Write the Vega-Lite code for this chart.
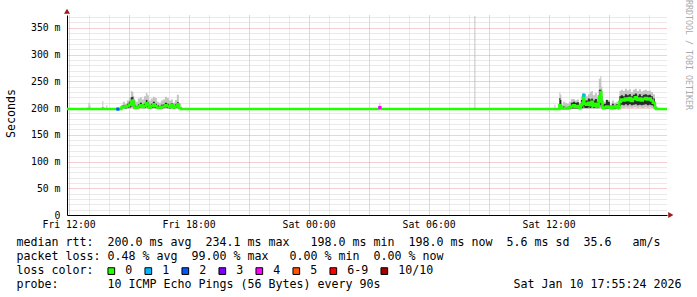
{
  "$schema": "https://vega.github.io/schema/vega-lite/v6.json",
  "width": 600,
  "height": 200,
  "autosize": {"type": "none"},
  "padding": {"left": 67, "top": 15, "right": 30, "bottom": 82},
  "background": "white",
  "config": {
    "view": {"stroke": null},
    "font": "DejaVu Sans Mono",
    "axis": {
      "labelFont": "DejaVu Sans Mono", "labelFontSize": 9.8, "labelColor": "black",
      "titleFont": "DejaVu Sans Mono", "titleFontSize": 11.63, "titleFontWeight": "normal", "titleColor": "black",
      "domainColor": "black", "domainWidth": 1, "ticks": false,
      "gridDash": [1, 1], "gridWidth": 1, "gridOpacity": 1
    }
  },
  "title": {
    "text": "RRDTOOL / TOBI OETIKER",
    "orient": "right", "anchor": "start", "frame": "group", "angle": 90,
    "baseline": "middle", "offset": -1, "dx": -15,
    "font": "DejaVu Sans Mono", "fontSize": 8.3, "fontWeight": "normal", "color": "#aaaaaa"
  },
  "data": {"values": [
    {"t":"2026-01-09T11:55:24Z","lo":197,"ilo":197.5,"ihi":199,"hi":200,"med":198,"loss":"0"},
    {"t":"2026-01-09T12:30:00Z","lo":197,"ilo":197.5,"ihi":199,"hi":200,"med":198,"loss":"0"},
    {"t":"2026-01-09T12:58:00Z","lo":197,"ilo":197.5,"ihi":199,"hi":200,"med":198,"loss":"0"},
    {"t":"2026-01-09T13:01:00Z","lo":197,"ilo":198,"ihi":200,"hi":210,"med":198.5,"loss":"0"},
    {"t":"2026-01-09T13:04:00Z","lo":197,"ilo":197.5,"ihi":199,"hi":206,"med":198,"loss":"0"},
    {"t":"2026-01-09T13:07:00Z","lo":197,"ilo":197.5,"ihi":199,"hi":200,"med":198,"loss":"0"},
    {"t":"2026-01-09T13:40:00Z","lo":197,"ilo":197.5,"ihi":199,"hi":200,"med":198,"loss":"0"},
    {"t":"2026-01-09T13:43:00Z","lo":197,"ilo":198,"ihi":201,"hi":213,"med":198.5,"loss":"0"},
    {"t":"2026-01-09T13:46:00Z","lo":197,"ilo":197.5,"ihi":199,"hi":200,"med":198,"loss":"0"},
    {"t":"2026-01-09T13:52:00Z","lo":197,"ilo":197.5,"ihi":199,"hi":200,"med":198,"loss":"0"},
    {"t":"2026-01-09T13:55:00Z","lo":197,"ilo":197.5,"ihi":200,"hi":205,"med":198,"loss":"0"},
    {"t":"2026-01-09T13:58:00Z","lo":197,"ilo":197.5,"ihi":199,"hi":200,"med":198,"loss":"0"},
    {"t":"2026-01-09T14:25:00Z","lo":197,"ilo":197.5,"ihi":199,"hi":200,"med":198,"loss":"0"},
    {"t":"2026-01-09T14:28:00Z","lo":197,"ilo":197.5,"ihi":199,"hi":201,"med":198,"loss":"2"},
    {"t":"2026-01-09T14:31:00Z","lo":197,"ilo":197.5,"ihi":199,"hi":200,"med":198,"loss":"0"},
    {"t":"2026-01-09T14:37:00Z","lo":197,"ilo":197.5,"ihi":199,"hi":200,"med":198,"loss":"0"},
    {"t":"2026-01-09T14:40:00Z","lo":198,"ilo":199,"ihi":203,"hi":206,"med":201,"loss":"0"},
    {"t":"2026-01-09T14:46:00Z","lo":198,"ilo":200,"ihi":205,"hi":212,"med":203,"loss":"0"},
    {"t":"2026-01-09T14:52:00Z","lo":198,"ilo":199,"ihi":204,"hi":208,"med":202,"loss":"0"},
    {"t":"2026-01-09T14:58:00Z","lo":198,"ilo":200,"ihi":208,"hi":214,"med":204,"loss":"0"},
    {"t":"2026-01-09T15:04:00Z","lo":199,"ilo":201,"ihi":212,"hi":220,"med":206,"loss":"0"},
    {"t":"2026-01-09T15:10:00Z","lo":200,"ilo":203,"ihi":220,"hi":232,"med":212,"loss":"0"},
    {"t":"2026-01-09T15:13:00Z","lo":200,"ilo":204,"ihi":221,"hi":230,"med":214,"loss":"0"},
    {"t":"2026-01-09T15:16:00Z","lo":199,"ilo":201,"ihi":214,"hi":222,"med":206,"loss":"0"},
    {"t":"2026-01-09T15:19:00Z","lo":198,"ilo":199,"ihi":205,"hi":214,"med":200,"loss":"0"},
    {"t":"2026-01-09T15:25:00Z","lo":198,"ilo":199,"ihi":204,"hi":212,"med":201,"loss":"0"},
    {"t":"2026-01-09T15:31:00Z","lo":198,"ilo":200,"ihi":207,"hi":218,"med":203,"loss":"0"},
    {"t":"2026-01-09T15:37:00Z","lo":199,"ilo":201,"ihi":210,"hi":220,"med":205,"loss":"0"},
    {"t":"2026-01-09T15:43:00Z","lo":198,"ilo":200,"ihi":206,"hi":216,"med":202,"loss":"0"},
    {"t":"2026-01-09T15:49:00Z","lo":198,"ilo":200,"ihi":208,"hi":222,"med":204,"loss":"0"},
    {"t":"2026-01-09T15:55:00Z","lo":199,"ilo":202,"ihi":215,"hi":228,"med":209,"loss":"0"},
    {"t":"2026-01-09T15:58:00Z","lo":199,"ilo":201,"ihi":211,"hi":224,"med":206,"loss":"0"},
    {"t":"2026-01-09T16:04:00Z","lo":198,"ilo":199,"ihi":205,"hi":214,"med":201,"loss":"0"},
    {"t":"2026-01-09T16:10:00Z","lo":198,"ilo":200,"ihi":208,"hi":218,"med":204,"loss":"0"},
    {"t":"2026-01-09T16:16:00Z","lo":199,"ilo":201,"ihi":212,"hi":221,"med":207,"loss":"0"},
    {"t":"2026-01-09T16:22:00Z","lo":198,"ilo":200,"ihi":208,"hi":219,"med":204,"loss":"0"},
    {"t":"2026-01-09T16:28:00Z","lo":198,"ilo":199,"ihi":205,"hi":212,"med":201,"loss":"0"},
    {"t":"2026-01-09T16:34:00Z","lo":198,"ilo":199,"ihi":203,"hi":210,"med":200,"loss":"0"},
    {"t":"2026-01-09T16:40:00Z","lo":198,"ilo":199,"ihi":206,"hi":214,"med":202,"loss":"0"},
    {"t":"2026-01-09T16:46:00Z","lo":198,"ilo":200,"ihi":207,"hi":216,"med":203,"loss":"0"},
    {"t":"2026-01-09T16:52:00Z","lo":199,"ilo":201,"ihi":210,"hi":221,"med":205,"loss":"0"},
    {"t":"2026-01-09T16:58:00Z","lo":198,"ilo":200,"ihi":208,"hi":219,"med":204,"loss":"0"},
    {"t":"2026-01-09T17:04:00Z","lo":198,"ilo":199,"ihi":205,"hi":214,"med":202,"loss":"0"},
    {"t":"2026-01-09T17:10:00Z","lo":199,"ilo":201,"ihi":209,"hi":216,"med":206,"loss":"0"},
    {"t":"2026-01-09T17:16:00Z","lo":198,"ilo":199,"ihi":204,"hi":210,"med":201,"loss":"0"},
    {"t":"2026-01-09T17:22:00Z","lo":198,"ilo":200,"ihi":207,"hi":215,"med":203,"loss":"0"},
    {"t":"2026-01-09T17:28:00Z","lo":199,"ilo":201,"ihi":211,"hi":225,"med":207,"loss":"0"},
    {"t":"2026-01-09T17:34:00Z","lo":198,"ilo":198.5,"ihi":202,"hi":208,"med":200,"loss":"0"},
    {"t":"2026-01-09T17:40:00Z","lo":197,"ilo":197.5,"ihi":199,"hi":200,"med":198,"loss":"0"},
    {"t":"2026-01-09T18:30:00Z","lo":197,"ilo":197.5,"ihi":199,"hi":200,"med":198,"loss":"0"},
    {"t":"2026-01-09T19:30:00Z","lo":197,"ilo":197.5,"ihi":199,"hi":200,"med":198,"loss":"0"},
    {"t":"2026-01-09T20:30:00Z","lo":197,"ilo":197.5,"ihi":199,"hi":200,"med":198,"loss":"0"},
    {"t":"2026-01-09T21:30:00Z","lo":197,"ilo":197.5,"ihi":199,"hi":200,"med":198,"loss":"0"},
    {"t":"2026-01-09T22:30:00Z","lo":197,"ilo":197.5,"ihi":199,"hi":200,"med":198,"loss":"0"},
    {"t":"2026-01-09T23:30:00Z","lo":197,"ilo":197.5,"ihi":199,"hi":200,"med":198,"loss":"0"},
    {"t":"2026-01-10T00:30:00Z","lo":197,"ilo":197.5,"ihi":199,"hi":200,"med":198,"loss":"0"},
    {"t":"2026-01-10T01:30:00Z","lo":197,"ilo":197.5,"ihi":199,"hi":200,"med":198,"loss":"0"},
    {"t":"2026-01-10T02:30:00Z","lo":197,"ilo":197.5,"ihi":199,"hi":200,"med":198,"loss":"0"},
    {"t":"2026-01-10T03:31:00Z","lo":197,"ilo":197.5,"ihi":199,"hi":200,"med":198,"loss":"0"},
    {"t":"2026-01-10T03:34:00Z","lo":197,"ilo":198,"ihi":203,"hi":210,"med":201,"loss":"4"},
    {"t":"2026-01-10T03:37:00Z","lo":197,"ilo":197.5,"ihi":199,"hi":200,"med":198,"loss":"0"},
    {"t":"2026-01-10T04:30:00Z","lo":197,"ilo":197.5,"ihi":199,"hi":200,"med":198,"loss":"0"},
    {"t":"2026-01-10T05:30:00Z","lo":197,"ilo":197.5,"ihi":199,"hi":200,"med":198,"loss":"0"},
    {"t":"2026-01-10T06:30:00Z","lo":197,"ilo":197.5,"ihi":199,"hi":200,"med":198,"loss":"0"},
    {"t":"2026-01-10T07:30:00Z","lo":197,"ilo":197.5,"ihi":199,"hi":200,"med":198,"loss":"0"},
    {"t":"2026-01-10T08:16:00Z","lo":197,"ilo":197.5,"ihi":199,"hi":200,"med":198,"loss":"0"},
    {"t":"2026-01-10T08:19:00Z","lo":197,"ilo":198,"ihi":200,"hi":372,"med":198,"loss":"0"},
    {"t":"2026-01-10T08:22:00Z","lo":197,"ilo":197.5,"ihi":199,"hi":200,"med":198,"loss":"0"},
    {"t":"2026-01-10T09:00:00Z","lo":197,"ilo":197.5,"ihi":199,"hi":200,"med":198,"loss":"0"},
    {"t":"2026-01-10T10:00:00Z","lo":197,"ilo":197.5,"ihi":199,"hi":200,"med":198,"loss":"0"},
    {"t":"2026-01-10T11:00:00Z","lo":197,"ilo":197.5,"ihi":199,"hi":200,"med":198,"loss":"0"},
    {"t":"2026-01-10T12:00:00Z","lo":197,"ilo":197.5,"ihi":199,"hi":200,"med":198,"loss":"0"},
    {"t":"2026-01-10T12:16:00Z","lo":197,"ilo":197.5,"ihi":199,"hi":200,"med":198,"loss":"0"},
    {"t":"2026-01-10T12:19:00Z","lo":197,"ilo":198,"ihi":200,"hi":206,"med":198,"loss":"0"},
    {"t":"2026-01-10T12:22:00Z","lo":197,"ilo":197.5,"ihi":199,"hi":200,"med":198,"loss":"0"},
    {"t":"2026-01-10T12:31:00Z","lo":197,"ilo":197.5,"ihi":199,"hi":200,"med":198,"loss":"0"},
    {"t":"2026-01-10T12:34:00Z","lo":198,"ilo":199,"ihi":219,"hi":229,"med":205,"loss":"0"},
    {"t":"2026-01-10T12:37:00Z","lo":198,"ilo":199,"ihi":215,"hi":225,"med":203,"loss":"0"},
    {"t":"2026-01-10T12:40:00Z","lo":197,"ilo":198,"ihi":200,"hi":206,"med":199,"loss":"0"},
    {"t":"2026-01-10T12:46:00Z","lo":197,"ilo":198,"ihi":203,"hi":212,"med":199,"loss":"0"},
    {"t":"2026-01-10T12:52:00Z","lo":197,"ilo":198,"ihi":202,"hi":210,"med":200,"loss":"0"},
    {"t":"2026-01-10T12:58:00Z","lo":197,"ilo":198,"ihi":201,"hi":208,"med":199,"loss":"0"},
    {"t":"2026-01-10T13:04:00Z","lo":197,"ilo":198,"ihi":204,"hi":212,"med":201,"loss":"0"},
    {"t":"2026-01-10T13:10:00Z","lo":198,"ilo":199,"ihi":210,"hi":217,"med":203,"loss":"0"},
    {"t":"2026-01-10T13:16:00Z","lo":198,"ilo":199,"ihi":212,"hi":217,"med":205,"loss":"0"},
    {"t":"2026-01-10T13:22:00Z","lo":198,"ilo":199,"ihi":210,"hi":214,"med":202,"loss":"0"},
    {"t":"2026-01-10T13:28:00Z","lo":198,"ilo":199,"ihi":211,"hi":216,"med":204,"loss":"0"},
    {"t":"2026-01-10T13:34:00Z","lo":197,"ilo":198,"ihi":203,"hi":210,"med":200,"loss":"0"},
    {"t":"2026-01-10T13:40:00Z","lo":198,"ilo":199,"ihi":215,"hi":222,"med":205,"loss":"0"},
    {"t":"2026-01-10T13:43:00Z","lo":198,"ilo":200,"ihi":220,"hi":228,"med":210,"loss":"0"},
    {"t":"2026-01-10T13:46:00Z","lo":199,"ilo":203,"ihi":226,"hi":228,"med":224,"loss":"1"},
    {"t":"2026-01-10T13:49:00Z","lo":198,"ilo":200,"ihi":214,"hi":220,"med":208,"loss":"0"},
    {"t":"2026-01-10T13:55:00Z","lo":198,"ilo":200,"ihi":214,"hi":222,"med":206,"loss":"0"},
    {"t":"2026-01-10T14:01:00Z","lo":198,"ilo":201,"ihi":218,"hi":226,"med":210,"loss":"0"},
    {"t":"2026-01-10T14:07:00Z","lo":198,"ilo":200,"ihi":216,"hi":230,"med":205,"loss":"0"},
    {"t":"2026-01-10T14:10:00Z","lo":199,"ilo":202,"ihi":218,"hi":232,"med":212,"loss":"0"},
    {"t":"2026-01-10T14:16:00Z","lo":198,"ilo":200,"ihi":214,"hi":224,"med":204,"loss":"0"},
    {"t":"2026-01-10T14:22:00Z","lo":198,"ilo":201,"ihi":217,"hi":228,"med":208,"loss":"0"},
    {"t":"2026-01-10T14:28:00Z","lo":198,"ilo":200,"ihi":212,"hi":220,"med":203,"loss":"0"},
    {"t":"2026-01-10T14:34:00Z","lo":199,"ilo":203,"ihi":234,"hi":255,"med":222,"loss":"0"},
    {"t":"2026-01-10T14:37:00Z","lo":200,"ilo":206,"ihi":234,"hi":260,"med":230,"loss":"0"},
    {"t":"2026-01-10T14:40:00Z","lo":199,"ilo":202,"ihi":222,"hi":240,"med":212,"loss":"0"},
    {"t":"2026-01-10T14:43:00Z","lo":197,"ilo":198,"ihi":206,"hi":214,"med":200,"loss":"0"},
    {"t":"2026-01-10T14:49:00Z","lo":197,"ilo":198,"ihi":208,"hi":212,"med":201,"loss":"0"},
    {"t":"2026-01-10T14:55:00Z","lo":198,"ilo":199,"ihi":215,"hi":216,"med":203,"loss":"0"},
    {"t":"2026-01-10T15:01:00Z","lo":198,"ilo":199,"ihi":212,"hi":215,"med":202,"loss":"0"},
    {"t":"2026-01-10T15:07:00Z","lo":197,"ilo":198,"ihi":202,"hi":206,"med":200,"loss":"0"},
    {"t":"2026-01-10T15:13:00Z","lo":197,"ilo":199,"ihi":208,"hi":214,"med":203,"loss":"0"},
    {"t":"2026-01-10T15:19:00Z","lo":197,"ilo":198,"ihi":204,"hi":210,"med":201,"loss":"0"},
    {"t":"2026-01-10T15:25:00Z","lo":198,"ilo":199,"ihi":207,"hi":212,"med":204,"loss":"0"},
    {"t":"2026-01-10T15:31:00Z","lo":197,"ilo":198,"ihi":203,"hi":208,"med":200,"loss":"0"},
    {"t":"2026-01-10T15:34:00Z","lo":200,"ilo":204,"ihi":222,"hi":232,"med":212,"loss":"0"},
    {"t":"2026-01-10T15:40:00Z","lo":200,"ilo":206,"ihi":224,"hi":234,"med":216,"loss":"0"},
    {"t":"2026-01-10T15:46:00Z","lo":200,"ilo":205,"ihi":222,"hi":232,"med":214,"loss":"0"},
    {"t":"2026-01-10T15:52:00Z","lo":201,"ilo":207,"ihi":226,"hi":236,"med":218,"loss":"0"},
    {"t":"2026-01-10T15:58:00Z","lo":200,"ilo":205,"ihi":224,"hi":233,"med":215,"loss":"0"},
    {"t":"2026-01-10T16:04:00Z","lo":201,"ilo":207,"ihi":226,"hi":235,"med":219,"loss":"0"},
    {"t":"2026-01-10T16:10:00Z","lo":200,"ilo":205,"ihi":222,"hi":230,"med":213,"loss":"0"},
    {"t":"2026-01-10T16:16:00Z","lo":201,"ilo":206,"ihi":225,"hi":234,"med":217,"loss":"0"},
    {"t":"2026-01-10T16:22:00Z","lo":201,"ilo":207,"ihi":227,"hi":236,"med":220,"loss":"0"},
    {"t":"2026-01-10T16:28:00Z","lo":200,"ilo":205,"ihi":223,"hi":232,"med":215,"loss":"0"},
    {"t":"2026-01-10T16:34:00Z","lo":201,"ilo":206,"ihi":226,"hi":235,"med":218,"loss":"0"},
    {"t":"2026-01-10T16:40:00Z","lo":200,"ilo":205,"ihi":222,"hi":231,"med":214,"loss":"0"},
    {"t":"2026-01-10T16:46:00Z","lo":200,"ilo":206,"ihi":225,"hi":233,"med":217,"loss":"0"},
    {"t":"2026-01-10T16:52:00Z","lo":201,"ilo":207,"ihi":226,"hi":234,"med":219,"loss":"0"},
    {"t":"2026-01-10T16:58:00Z","lo":200,"ilo":205,"ihi":224,"hi":232,"med":216,"loss":"0"},
    {"t":"2026-01-10T17:04:00Z","lo":201,"ilo":206,"ihi":225,"hi":233,"med":218,"loss":"0"},
    {"t":"2026-01-10T17:10:00Z","lo":200,"ilo":205,"ihi":222,"hi":230,"med":214,"loss":"0"},
    {"t":"2026-01-10T17:16:00Z","lo":199,"ilo":203,"ihi":218,"hi":226,"med":210,"loss":"0"},
    {"t":"2026-01-10T17:22:00Z","lo":197,"ilo":198,"ihi":203,"hi":208,"med":200,"loss":"0"},
    {"t":"2026-01-10T17:25:00Z","lo":197,"ilo":197.5,"ihi":199,"hi":200,"med":198,"loss":"0"},
    {"t":"2026-01-10T17:40:00Z","lo":197,"ilo":197.5,"ihi":199,"hi":200,"med":198,"loss":"0"},
    {"t":"2026-01-10T17:55:24Z","lo":197,"ilo":197.5,"ihi":199,"hi":200,"med":198,"loss":"0"}
  ]},
  "encoding": {
    "x": {
      "field": "t", "type": "temporal",
      "scale": {"type": "utc", "domain": [1767959724000, 1768067724000]},
      "axis": {
        "values": [1767960000000,1767963600000,1767967200000,1767970800000,1767974400000,1767978000000,1767981600000,1767985200000,1767988800000,1767992400000,1767996000000,1767999600000,1768003200000,1768006800000,1768010400000,1768014000000,1768017600000,1768021200000,1768024800000,1768028400000,1768032000000,1768035600000,1768039200000,1768042800000,1768046400000,1768050000000,1768053600000,1768057200000,1768060800000,1768064400000],
        "grid": true, "gridDash": [1, 1],
        "gridColor": {"condition": {"test": "utchours(datum.value) % 3 === 0", "value": "#e6a0a0"}, "value": "#d2d2d2"},
        "labelExpr": "utchours(datum.value) % 6 === 0 ? utcFormat(datum.value, '%a %H:%M') : ''",
        "labelOverlap": false, "labelFlush": false, "labelPadding": 4,
        "title": [
          "median rtt:\u00a0\u00a0200.0 ms avg\u00a0\u00a0234.1 ms max\u00a0\u00a0\u00a0198.0 ms min\u00a0\u00a0198.0 ms now\u00a0\u00a05.6 ms sd\u00a0\u00a035.6\u00a0\u00a0\u00a0am/s",
          "packet loss: 0.48 % avg\u00a0\u00a099.00 % max\u00a0\u00a0\u00a00.00 % min\u00a0\u00a00.00 % now",
          "loss color:",
          "probe:\u00a0\u00a0\u00a0\u00a0\u00a0\u00a0\u00a010 ICMP Echo Pings (56 Bytes) every 90s\u00a0\u00a0\u00a0\u00a0\u00a0\u00a0\u00a0\u00a0\u00a0\u00a0\u00a0\u00a0\u00a0\u00a0\u00a0\u00a0\u00a0\u00a0\u00a0Sat Jan 10 17:55:24 2026"
        ],
        "titleAnchor": "start", "titleAlign": "left", "titleBaseline": "alphabetic",
        "titleX": -51, "titleY": 30.5, "titleLineHeight": 14
      }
    }
  },
  "layer": [
    {
      "mark": {"type": "area", "interpolate": "step", "color": "#c4c4c4", "clip": true},
      "encoding": {
        "y": {"field": "hi", "type": "quantitative", "title": "Seconds",
          "scale": {"domain": [0, 374], "nice": false, "zero": false},
          "axis": {"values": [0,10,20,30,40,50,60,70,80,90,100,110,120,130,140,150,160,170,180,190,200,210,220,230,240,250,260,270,280,290,300,310,320,330,340,350,360,370], "grid": true, "gridDash": [1, 1], "gridColor": {"condition": {"test": "datum.value % 50 === 0", "value": "#e6a0a0"}, "value": "#d2d2d2"}, "labelExpr": "datum.value === 0 ? '0\u00a0\u00a0' : (datum.value % 50 === 0 ? datum.value + ' m' : '')", "labelOverlap": false, "labelFlush": false, "labelPadding": 7, "title": "Seconds", "titleAngle": -90, "titleAlign": "center", "titleBaseline": "middle", "titleX": -56, "titleY": 98}},
        "y2": {"field": "lo"}
      }
    },
    {
      "mark": {"type": "area", "interpolate": "step", "color": "#2a2a2a", "clip": true},
      "encoding": {
        "y": {"field": "ihi", "type": "quantitative", "title": "Seconds",
          "scale": {"domain": [0, 374], "nice": false, "zero": false},
          "axis": {"values": [0,10,20,30,40,50,60,70,80,90,100,110,120,130,140,150,160,170,180,190,200,210,220,230,240,250,260,270,280,290,300,310,320,330,340,350,360,370], "grid": true, "gridDash": [1, 1], "gridColor": {"condition": {"test": "datum.value % 50 === 0", "value": "#e6a0a0"}, "value": "#d2d2d2"}, "labelExpr": "datum.value === 0 ? '0\u00a0\u00a0' : (datum.value % 50 === 0 ? datum.value + ' m' : '')", "labelOverlap": false, "labelFlush": false, "labelPadding": 7, "title": "Seconds", "titleAngle": -90, "titleAlign": "center", "titleBaseline": "middle", "titleX": -56, "titleY": 98}},
        "y2": {"field": "ilo"}
      }
    },
    {
      "mark": {"type": "line", "interpolate": "step", "color": "#22ff00", "strokeWidth": 2.5, "clip": true},
      "encoding": {
        "y": {"field": "med", "type": "quantitative", "title": "Seconds",
          "scale": {"domain": [0, 374], "nice": false, "zero": false},
          "axis": {"values": [0,10,20,30,40,50,60,70,80,90,100,110,120,130,140,150,160,170,180,190,200,210,220,230,240,250,260,270,280,290,300,310,320,330,340,350,360,370], "grid": true, "gridDash": [1, 1], "gridColor": {"condition": {"test": "datum.value % 50 === 0", "value": "#e6a0a0"}, "value": "#d2d2d2"}, "labelExpr": "datum.value === 0 ? '0\u00a0\u00a0' : (datum.value % 50 === 0 ? datum.value + ' m' : '')", "labelOverlap": false, "labelFlush": false, "labelPadding": 7, "title": "Seconds", "titleAngle": -90, "titleAlign": "center", "titleBaseline": "middle", "titleX": -56, "titleY": 98}}
      }
    },
    {
      "transform": [{"filter": "datum.loss !== '0'"}],
      "mark": {"type": "square", "size": 10, "opacity": 1},
      "encoding": {
        "y": {"field": "med", "type": "quantitative", "title": "Seconds",
          "scale": {"domain": [0, 374], "nice": false, "zero": false},
          "axis": {"values": [0,10,20,30,40,50,60,70,80,90,100,110,120,130,140,150,160,170,180,190,200,210,220,230,240,250,260,270,280,290,300,310,320,330,340,350,360,370], "grid": true, "gridDash": [1, 1], "gridColor": {"condition": {"test": "datum.value % 50 === 0", "value": "#e6a0a0"}, "value": "#d2d2d2"}, "labelExpr": "datum.value === 0 ? '0\u00a0\u00a0' : (datum.value % 50 === 0 ? datum.value + ' m' : '')", "labelOverlap": false, "labelFlush": false, "labelPadding": 7, "title": "Seconds", "titleAngle": -90, "titleAlign": "center", "titleBaseline": "middle", "titleX": -56, "titleY": 98}},
        "color": {
          "field": "loss", "type": "nominal",
          "scale": {"domain": ["0","1","2","3","4","5","6-9","10/10"],
                    "range": ["#26ff00","#00b8ff","#0059ff","#7e00ff","#ff00ff","#ff5500","#ff0000","#a10000"]},
          "legend": {
            "orient": "none", "legendX": 38.5, "legendY": 250, "direction": "horizontal", "columns": 8,
            "title": null, "padding": 0,
            "symbolType": "square", "symbolSize": 45, "symbolStrokeColor": "black", "symbolStrokeWidth": 1, "symbolOpacity": 1,
            "labelFont": "DejaVu Sans Mono", "labelFontSize": 11.63, "labelColor": "black",
            "labelOffset": 8, "columnPadding": 10
          }
        }
      }
    },
    {
      "data": {"values": [{"t": 1767959724000, "v": 381}]},
      "mark": {"type": "point", "shape": "triangle-up", "filled": true, "color": "#9e1b1b", "size": 36, "opacity": 1},
      "encoding": {
        "y": {"field": "v", "type": "quantitative", "title": "Seconds",
          "scale": {"domain": [0, 374], "nice": false, "zero": false},
          "axis": {"values": [0,10,20,30,40,50,60,70,80,90,100,110,120,130,140,150,160,170,180,190,200,210,220,230,240,250,260,270,280,290,300,310,320,330,340,350,360,370], "grid": true, "gridDash": [1, 1], "gridColor": {"condition": {"test": "datum.value % 50 === 0", "value": "#e6a0a0"}, "value": "#d2d2d2"}, "labelExpr": "datum.value === 0 ? '0\u00a0\u00a0' : (datum.value % 50 === 0 ? datum.value + ' m' : '')", "labelOverlap": false, "labelFlush": false, "labelPadding": 7, "title": "Seconds", "titleAngle": -90, "titleAlign": "center", "titleBaseline": "middle", "titleX": -56, "titleY": 98}}
      }
    },
    {
      "data": {"values": [{"t": 1768068408000, "v": 0}]},
      "mark": {"type": "point", "shape": "triangle-right", "filled": true, "color": "#9e1b1b", "size": 36, "opacity": 1},
      "encoding": {
        "y": {"field": "v", "type": "quantitative", "title": "Seconds",
          "scale": {"domain": [0, 374], "nice": false, "zero": false},
          "axis": {"values": [0,10,20,30,40,50,60,70,80,90,100,110,120,130,140,150,160,170,180,190,200,210,220,230,240,250,260,270,280,290,300,310,320,330,340,350,360,370], "grid": true, "gridDash": [1, 1], "gridColor": {"condition": {"test": "datum.value % 50 === 0", "value": "#e6a0a0"}, "value": "#d2d2d2"}, "labelExpr": "datum.value === 0 ? '0\u00a0\u00a0' : (datum.value % 50 === 0 ? datum.value + ' m' : '')", "labelOverlap": false, "labelFlush": false, "labelPadding": 7, "title": "Seconds", "titleAngle": -90, "titleAlign": "center", "titleBaseline": "middle", "titleX": -56, "titleY": 98}}
      }
    }
  ]
}
